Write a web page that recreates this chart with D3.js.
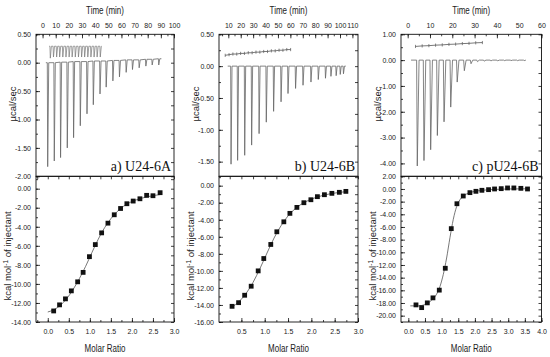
<!DOCTYPE html>
<html>
<head>
<meta charset="utf-8">
<script src="https://cdn.jsdelivr.net/npm/d3@7"></script>
<style>
  body { margin: 0; background: #fff; }
  svg { display: block; }
  .tick text { font-family: "Liberation Sans", Arial, sans-serif; font-size: 7px; fill: #222; }
  .tick line { stroke: #111; stroke-width: 0.8; }
  .lab { font-family: "Liberation Sans", Arial, sans-serif; font-size: 10px; fill: #222; }
  .ylab { font-family: "Liberation Sans", Arial, sans-serif; font-size: 9.5px; fill: #222; }
  .tag { font-family: "Liberation Serif", "Times New Roman", serif; font-size: 14px; fill: #111; }
</style>
</head>
<body>
<svg id="chart"></svg>
<script>
const width = 550, height = 357;

// ---------------- panel a) U24-6A ----------------
const aTimeTicks = [0, 10, 20, 30, 40, 50, 60, 70, 80, 90, 100];
const aRateTicks = [0.5, 0, -0.5, -1, -1.5, -2];
const aRatioTicks = [0, 0.5, 1, 1.5, 2, 2.5, 3];
const aHeatTicks = [0, -2, -4, -6, -8, -10, -12, -14];
// raw injections (min, µcal/sec)
const aInjTime = [3.6, 8.6, 13.4, 18.5, 23.3, 28.4, 33.5, 38.3, 43.4, 48.1, 53.2, 58.2, 63.3, 68.1, 73.2, 78.3, 83.1, 88.1];
const aPeak = [-1.83, -1.73, -1.67, -1.50, -1.32, -1.11, -0.90, -0.74, -0.55, -0.43, -0.32, -0.25, -0.17, -0.12, -0.09, -0.06, -0.04, -0.04];
const aBase = [0.00, 0.00, 0.01, 0.01, 0.02, 0.02, 0.02, 0.03, 0.03, 0.03, 0.04, 0.04, 0.05, 0.05, 0.05, 0.06, 0.06, 0.07];
// control (dilution) run
const aCtrlTime = [5.6, 8.0, 10.4, 12.7, 15.1, 17.5, 19.9, 22.2, 24.6, 27.0, 29.4, 31.7, 34.1, 36.5, 38.9, 41.2, 43.6];
const aCtrlBase = [0.29, 0.29, 0.29, 0.29, 0.29, 0.29, 0.29, 0.29, 0.29, 0.29, 0.29, 0.29, 0.29, 0.29, 0.29, 0.29, 0.29];
const aCtrlPeak = [0.08, 0.10, 0.10, 0.10, 0.10, 0.10, 0.10, 0.10, 0.10, 0.10, 0.10, 0.10, 0.10, 0.10, 0.10, 0.10, 0.10];
// integrated heats
const aRatio = [0.14, 0.28, 0.42, 0.56, 0.71, 0.84, 0.99, 1.13, 1.28, 1.43, 1.58, 1.73, 1.88, 2.03, 2.19, 2.35, 2.50, 2.67];
const aHeat = [-12.84, -12.20, -11.57, -10.73, -9.78, -8.79, -7.14, -5.87, -4.64, -3.62, -2.74, -2.08, -1.58, -1.30, -1.06, -0.70, -0.74, -0.42];
const aFitRatio = [0.00, 0.15, 0.30, 0.45, 0.60, 0.75, 0.90, 1.05, 1.20, 1.35, 1.50, 1.65, 1.80, 1.95, 2.10, 2.25, 2.40, 2.55, 2.67];
const aFitHeat = [-12.95, -12.70, -12.25, -11.55, -10.60, -9.45, -8.15, -6.70, -5.30, -4.10, -3.15, -2.40, -1.85, -1.45, -1.18, -0.98, -0.82, -0.70, -0.62];

// ---------------- panel b) U24-6B ----------------
const bTimeTicks = [10, 20, 30, 40, 50, 60, 70, 80, 90, 100, 110];
const bRateTicks = [0.5, 0, -0.5, -1, -1.5];
const bRatioTicks = [0.5, 1, 1.5, 2, 2.5, 3];
const bHeatTicks = [0, -2, -4, -6, -8, -10, -12, -14, -16];
const bInjTime = [11.9, 17.2, 22.9, 28.5, 34.5, 40.3, 46.2, 52.2, 57.8, 63.9, 69.9, 76.3, 82.2, 88.0, 92.4, 96.6, 99.9, 102.5];
const bPeak = [-1.54, -1.48, -1.40, -1.24, -1.06, -0.88, -0.71, -0.56, -0.43, -0.35, -0.30, -0.25, -0.21, -0.19, -0.16, -0.15, -0.13, -0.12];
const bBase = [0, 0, 0, 0, 0, 0, 0, 0, 0, 0, 0, 0, 0, 0, 0, 0, 0, 0];
const bCtrlTime = [7.5, 10.6, 13.7, 16.8, 19.9, 23.0, 26.1, 29.2, 32.3, 35.4, 38.5, 41.6, 44.7, 47.8, 50.9, 54.0, 57.1, 60.2];
const bCtrlVal = [0.17, 0.18, 0.19, 0.19, 0.20, 0.20, 0.21, 0.21, 0.22, 0.22, 0.23, 0.23, 0.24, 0.24, 0.25, 0.25, 0.26, 0.26];
const bRatio = [0.30, 0.44, 0.57, 0.71, 0.86, 0.98, 1.13, 1.26, 1.41, 1.54, 1.69, 1.84, 1.99, 2.13, 2.28, 2.44, 2.60, 2.74];
const bHeat = [-14.16, -13.73, -12.86, -11.80, -10.00, -8.55, -6.90, -5.41, -4.24, -3.25, -2.55, -2.00, -1.65, -1.29, -1.06, -0.90, -0.78, -0.67];
const bFitRatio = [0.30, 0.45, 0.60, 0.75, 0.90, 1.05, 1.20, 1.35, 1.50, 1.65, 1.80, 1.95, 2.10, 2.25, 2.40, 2.55, 2.74];
const bFitHeat = [-14.25, -13.60, -12.65, -11.35, -9.70, -7.90, -6.15, -4.70, -3.55, -2.72, -2.12, -1.70, -1.38, -1.14, -0.96, -0.83, -0.70];

// ---------------- panel c) pU24-6B ----------------
const cTimeTicks = [0, 10, 20, 30, 40, 50, 60];
const cRateTicks = [1, 0, -1, -2, -3, -4];
const cRatioTicks = [0, 0.5, 1, 1.5, 2, 2.5, 3, 3.5, 4];
const cHeatTicks = [2, 0, -2, -4, -6, -8, -10, -12, -14, -16, -18, -20];
const cInjTime = [4.0, 7.0, 10.0, 13.0, 16.0, 19.0, 21.9, 25.1, 28.1, 31.0, 34.0, 37.0, 40.0, 43.0, 46.0, 48.9, 51.9];
const cPeak = [-4.10, -3.89, -3.47, -2.92, -2.39, -1.82, -0.85, -0.41, -0.14, -0.06, -0.04, -0.03, -0.03, -0.02, -0.02, -0.02, -0.02];
const cBase = [0, 0, 0, 0, 0, 0, 0, 0, 0, 0, 0, 0, 0, 0, 0, 0, 0];
const cCtrlTime = [3.5, 6.5, 9.5, 12.5, 15.5, 18.5, 21.5, 24.5, 27.5, 30.5, 33.5];
const cCtrlVal = [0.53, 0.55, 0.56, 0.58, 0.59, 0.61, 0.62, 0.64, 0.65, 0.67, 0.68];
const cRatio = [0.23, 0.40, 0.57, 0.74, 0.93, 1.11, 1.29, 1.46, 1.65, 1.85, 2.03, 2.21, 2.41, 2.59, 2.79, 2.98, 3.17, 3.38, 3.58];
const cHeat = [-18.30, -18.73, -17.98, -17.19, -15.97, -12.52, -6.26, -2.33, -1.11, -0.58, -0.37, -0.21, -0.11, 0.00, 0.05, 0.16, 0.16, 0.10, 0.00];
const cFitRatio = [0.06, 0.30, 0.50, 0.70, 0.85, 0.95, 1.05, 1.15, 1.25, 1.35, 1.45, 1.55, 1.70, 1.90, 2.20, 2.60, 3.00, 3.58];
const cFitHeat = [-18.45, -18.45, -18.25, -17.55, -16.60, -15.40, -13.50, -10.90, -7.70, -4.80, -2.80, -1.70, -0.95, -0.50, -0.22, -0.07, 0.00, 0.03];

// layout of the three columns (shared rows)
const topY0 = 34.3, midY = 176.3, botY1 = 322;

const panels = [
  { tag: "a) U24-6A", x0: 36, x1: 174, tDom: [-5, 100], rDom: [-2, 0.5], mDom: [-0.28, 3], hDom: [-14, 1.3],
    tTicks: aTimeTicks, rTicks: aRateTicks, rStep: 0.25, mTicks: aRatioTicks, hTicks: aHeatTicks, hStep: 1,
    inj: aInjTime, peak: aPeak, base: aBase, tStart: 2.5, tEnd: 90.4,
    comb: { time: aCtrlTime, base: aCtrlBase, peak: aCtrlPeak, tStart: 5.0, tEnd: 45.0 },
    ratio: aRatio, heat: aHeat, fitR: aFitRatio, fitH: aFitHeat },
  { tag: "b) U24-6B", x0: 219, x1: 358, tDom: [2.5, 114.5], rDom: [-1.73, 0.5], mDom: [0.02, 3], hDom: [-16, 1.1],
    tTicks: bTimeTicks, rTicks: bRateTicks, rStep: 0.25, mTicks: bRatioTicks, hTicks: bHeatTicks, hStep: 1,
    inj: bInjTime, peak: bPeak, base: bBase, tStart: 9.5, tEnd: 104.7,
    cross: { time: bCtrlTime, val: bCtrlVal },
    ratio: bRatio, heat: bHeat, fitR: bFitRatio, fitH: bFitHeat },
  { tag: "c) pU24-6B", x0: 401, x1: 541.5, tDom: [-3, 60], rDom: [-4.5, 1], mDom: [-0.22, 4], hDom: [-21, 2],
    tTicks: cTimeTicks, rTicks: cRateTicks, rStep: 0.5, mTicks: cRatioTicks, hTicks: cHeatTicks, hStep: 1,
    inj: cInjTime, peak: cPeak, base: cBase, tStart: 1.5, tEnd: 53,
    cross: { time: cCtrlTime, val: cCtrlVal },
    ratio: cRatio, heat: cHeat, fitR: cFitRatio, fitH: cFitHeat }
];

const svg = d3.select("#chart")
  .attr("width", width)
  .attr("height", height);

// builds the raw trace: baseline with a sharp spike at each injection
function spikeTrace(times, peaks, bases, tStart, tEnd) {
  const pts = [[tStart, bases[0]]];
  times.forEach((t, i) => {
    pts.push([t, bases[i]], [t + 0.3, peaks[i]], [t + 1.1, bases[i]]);
  });
  pts.push([tEnd, bases[bases.length - 1]]);
  return pts;
}

function noDomain(g) { g.select(".domain").remove(); }

function drawPanel(p) {
  const g = svg.append("g");
  const xt = d3.scaleLinear().domain(p.tDom).range([p.x0, p.x1]);
  const yr = d3.scaleLinear().domain(p.rDom).range([midY, topY0]);
  const xm = d3.scaleLinear().domain(p.mDom).range([p.x0, p.x1]);
  const yh = d3.scaleLinear().domain(p.hDom).range([botY1, midY]);
  const fmt2 = d => d.toFixed(2);

  const tMinor = d3.range(Math.ceil(p.tDom[0] / 5) * 5, p.tDom[1] + 0.01, 5);
  const rMinor = d3.range(Math.ceil(p.rDom[0] / p.rStep) * p.rStep, p.rDom[1] + 0.001, p.rStep);
  const mMinor = d3.range(Math.ceil(p.mDom[0] / 0.25) * 0.25, p.mDom[1] + 0.001, 0.25);
  const hMinor = d3.range(Math.ceil(p.hDom[0]), p.hDom[1] + 0.001, p.hStep);

  // --- top plot axes ---
  g.append("g").attr("transform", `translate(0,${topY0})`)
    .call(d3.axisTop(xt).tickValues(tMinor).tickSize(-2).tickFormat("")).call(noDomain);
  g.append("g").attr("transform", `translate(0,${topY0})`)
    .call(d3.axisTop(xt).tickValues(p.tTicks).tickSize(-4).tickPadding(6).tickFormat(d3.format("d"))).call(noDomain);
  g.append("g").attr("transform", `translate(${p.x0},0)`)
    .call(d3.axisLeft(yr).tickValues(rMinor).tickSize(-2).tickFormat("")).call(noDomain);
  g.append("g").attr("transform", `translate(${p.x0},0)`)
    .call(d3.axisLeft(yr).tickValues(p.rTicks).tickSize(-4).tickPadding(5).tickFormat(fmt2)).call(noDomain);
  g.append("g").attr("transform", `translate(${p.x1},0)`)
    .call(d3.axisRight(yr).tickValues(rMinor).tickSize(-3).tickFormat("")).call(noDomain);

  // --- bottom plot axes ---
  g.append("g").attr("transform", `translate(0,${midY})`)
    .call(d3.axisTop(xm).tickValues(mMinor).tickSize(-3).tickFormat("")).call(noDomain);
  g.append("g").attr("transform", `translate(0,${botY1})`)
    .call(d3.axisBottom(xm).tickValues(mMinor).tickSize(-2).tickFormat("")).call(noDomain);
  g.append("g").attr("transform", `translate(0,${botY1})`)
    .call(d3.axisBottom(xm).tickValues(p.mTicks).tickSize(-4).tickPadding(7).tickFormat(d => d.toFixed(1))).call(noDomain);
  g.append("g").attr("transform", `translate(${p.x0},0)`)
    .call(d3.axisLeft(yh).tickValues(hMinor).tickSize(-2).tickFormat("")).call(noDomain);
  g.append("g").attr("transform", `translate(${p.x0},0)`)
    .call(d3.axisLeft(yh).tickValues(p.hTicks).tickSize(-4).tickPadding(5).tickFormat(fmt2)).call(noDomain);
  g.append("g").attr("transform", `translate(${p.x1},0)`)
    .call(d3.axisRight(yh).tickValues(hMinor).tickSize(-3).tickFormat("")).call(noDomain);

  // --- frames ---
  g.append("rect").attr("x", p.x0).attr("y", topY0).attr("width", p.x1 - p.x0).attr("height", midY - topY0)
    .attr("fill", "none").attr("stroke", "#111").attr("stroke-width", 0.9);
  g.append("rect").attr("x", p.x0).attr("y", midY).attr("width", p.x1 - p.x0).attr("height", botY1 - midY)
    .attr("fill", "none").attr("stroke", "#111").attr("stroke-width", 0.9);

  // --- raw thermogram ---
  const rawLine = d3.line().x(d => xt(d[0])).y(d => yr(d[1]));
  g.append("path")
    .datum(spikeTrace(p.inj, p.peak, p.base, p.tStart, p.tEnd))
    .attr("d", rawLine)
    .attr("fill", "none").attr("stroke", "#666").attr("stroke-width", 0.8);

  if (p.comb) {
    const c = p.comb;
    g.append("path")
      .datum(spikeTrace(c.time, c.peak, c.base, c.tStart, c.tEnd))
      .attr("d", rawLine)
      .attr("fill", "none").attr("stroke", "#777").attr("stroke-width", 0.7);
  }
  if (p.cross) {
    const pts = p.cross.time.map((t, i) => [t, p.cross.val[i]]);
    g.append("path").datum(pts).attr("d", rawLine)
      .attr("fill", "none").attr("stroke", "#555").attr("stroke-width", 0.8);
    g.selectAll(null).data(pts).join("line")
      .attr("x1", d => xt(d[0])).attr("x2", d => xt(d[0]))
      .attr("y1", d => yr(d[1]) - 1.6).attr("y2", d => yr(d[1]) + 1.6)
      .attr("stroke", "#555").attr("stroke-width", 0.7);
  }

  // --- isotherm: fit + points ---
  g.append("path")
    .datum(p.fitR.map((r, i) => [r, p.fitH[i]]))
    .attr("d", d3.line().x(d => xm(d[0])).y(d => yh(d[1])).curve(d3.curveMonotoneX))
    .attr("fill", "none").attr("stroke", "#555").attr("stroke-width", 0.8);
  g.selectAll(null).data(p.ratio.map((r, i) => [r, p.heat[i]])).join("rect")
    .attr("x", d => xm(d[0]) - 2.4).attr("y", d => yh(d[1]) - 2.4)
    .attr("width", 4.8).attr("height", 4.8).attr("fill", "#111");

  // --- texts ---
  const cx = (p.x0 + p.x1) / 2;
  g.append("text").attr("class", "lab").attr("transform", `translate(${cx},14) scale(0.8,1)`)
    .attr("text-anchor", "middle").text("Time (min)");
  g.append("text").attr("class", "lab").attr("transform", `translate(${cx},352) scale(0.8,1)`)
    .attr("text-anchor", "middle").text("Molar Ratio");
  g.append("text").attr("class", "tag").attr("x", p.x1 - 3).attr("y", 171).attr("text-anchor", "end").text(p.tag);

  g.append("text").attr("class", "ylab")
    .attr("transform", `translate(${p.x0 - 20},104) rotate(-90)`).attr("text-anchor", "middle").text("µcal/sec");
  const kt = g.append("text").attr("class", "ylab")
    .attr("transform", `translate(${p.x0 - 25},256) rotate(-90)`).attr("text-anchor", "middle");
  kt.append("tspan").text("kcal mol");
  kt.append("tspan").attr("dy", -3.5).attr("font-size", "6.5px").text("-1");
  kt.append("tspan").attr("dy", 3.5).text(" of injectant");
}

panels.forEach(drawPanel);
</script>
</body>
</html>
